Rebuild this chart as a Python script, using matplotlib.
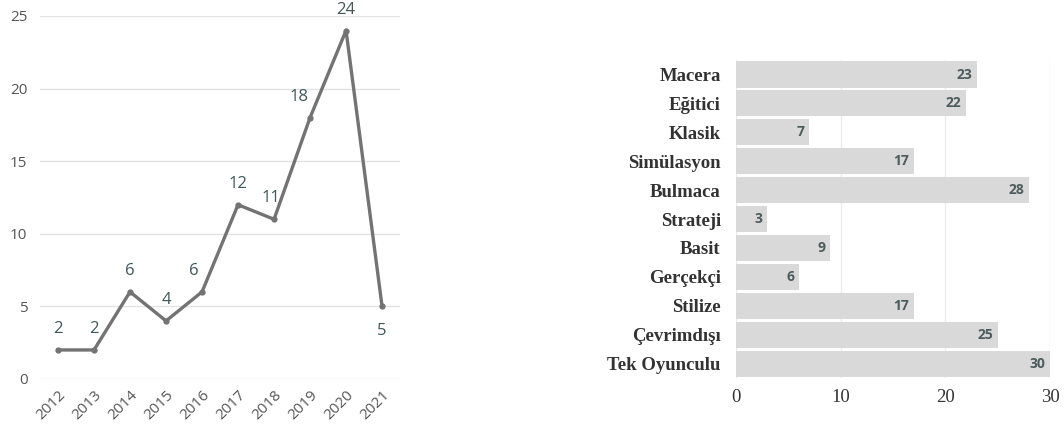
import numpy as np
import matplotlib as mpl
import matplotlib.pyplot as plt

# 年別データ
years = ["2012", "2013", "2014", "2015", "2016", "2017", "2018", "2019", "2020", "2021"]
counts = [2, 2, 6, 4, 6, 12, 11, 18, 24, 5]

# 特徴別データ
features = ["Macera", "Eğitici", "Klasik", "Simülasyon", "Bulmaca", "Strateji",
            "Basit", "Gerçekçi", "Stilize", "Çevrimdışı", "Tek Oyunculu"]
feat_vals = [23, 22, 7, 17, 28, 3, 9, 6, 17, 25, 30]

# ラベル位置 (pixel offset)
lab_dx = [0, 0, 0, 0, -8, 0, -3, -11, 0, 0]
lab_dy = [21, 21, 21, 21, 21, 21, 21, 21, 21, -25]

fig = plt.figure(figsize=(10.64, 4.32), dpi=100)

# ---- 左: 折れ線 ----
ax1 = fig.add_axes([0.0376, 0.1227, 0.3384, 0.8403])
x = np.arange(len(years))
ax1.plot(x, counts, color="#737373", lw=2.4, marker="o", ms=3.5, zorder=3)
for i, v in enumerate(counts):
    ax1.annotate(str(v), (x[i], v), xytext=(lab_dx[i], lab_dy[i]), textcoords="offset pixels",
                 ha="center", va="center", fontsize=12, color="#3f5757", family="Open Sans")
ax1.set_xlim(-0.5, 9.5)
ax1.set_ylim(0, 25)
ax1.set_yticks([0, 5, 10, 15, 20, 25])
ax1.set_xticks(x)
ax1.set_xticklabels(years, rotation=45, ha="right", rotation_mode="anchor")
ax1.grid(axis="y", color="#e3e3e3", lw=1)
ax1.set_axisbelow(True)
for s in ax1.spines.values():
    s.set_visible(False)
ax1.tick_params(axis="both", length=0, colors="#555555")
ax1.tick_params(axis="y", pad=9, labelsize=11)
ax1.tick_params(axis="x", pad=6, labelsize=11)
for t in ax1.get_xticklabels() + ax1.get_yticklabels():
    t.set_family("Open Sans")

# ---- 右: 横棒 ----
ax2 = fig.add_axes([0.6917, 0.125, 0.2951, 0.736])
yy = np.arange(len(features))
ax2.barh(yy, feat_vals, height=0.9, color="#d9d9d9", zorder=2)
for i, v in enumerate(feat_vals):
    ax2.text(v - 0.45, yy[i], str(v), ha="right", va="center", fontsize=10,
             color="#4d5c5c", fontweight="bold", family="Open Sans")
ax2.set_ylim(len(features) - 0.5, -0.5)
ax2.set_xlim(0, 30)
ax2.set_xticks([0, 10, 20, 30])
ax2.set_yticks(yy)
ax2.set_yticklabels(features)
ax2.grid(axis="x", color="#ebebeb", lw=1)
ax2.set_axisbelow(True)
for s in ax2.spines.values():
    s.set_visible(False)
ax2.tick_params(axis="both", length=0, colors="#333333")
ax2.tick_params(axis="y", pad=11, labelsize=13.5)
ax2.tick_params(axis="x", pad=8, labelsize=13.5)
for t in ax2.get_yticklabels():
    t.set_family("Liberation Serif")
    t.set_fontweight("bold")
for t in ax2.get_xticklabels():
    t.set_family("Liberation Serif")

plt.savefig("out.png", dpi=100)
